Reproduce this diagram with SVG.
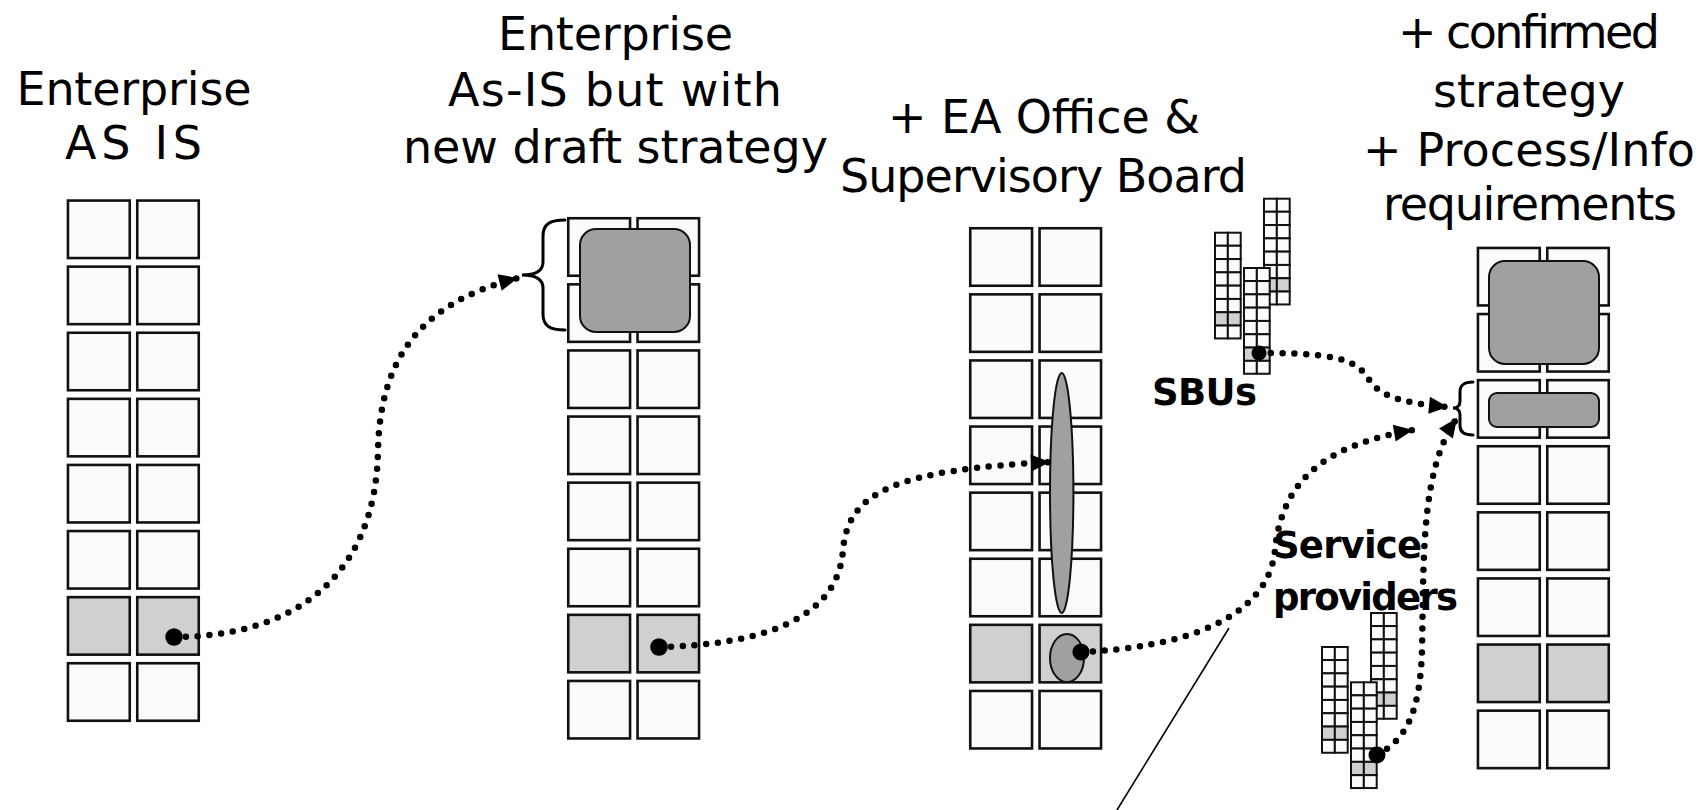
<svg xmlns="http://www.w3.org/2000/svg" xmlns:xlink="http://www.w3.org/1999/xlink" width="1708" height="810" viewBox="0 0 1708 810">
  <style>
    .cell { fill: #fbfbfb; stroke: #111; stroke-width: 2.6; }
    .shade { fill: #d0d0d0; }
    .mcell { fill: #fbfbfb; stroke: #111; stroke-width: 2; }
    .mshade { fill: #d0d0d0; }
    .blob { fill: #a0a0a0; stroke: #111; stroke-width: 2; }
    .brace { fill: none; stroke: #000; stroke-width: 3; stroke-linecap: round; }
    .flow { fill: none; stroke: #000; stroke-width: 6.5; stroke-linecap: round; stroke-dasharray: 0 11.8; marker-end: url(#head); }
    .dot { fill: #000; }
    .leader { fill: none; stroke: #000; stroke-width: 1.6; }
    .title { font-family: "DejaVu Sans", "Liberation Sans", sans-serif; font-size: 46px; text-anchor: middle; fill: #000; }
    .tag { font-family: "DejaVu Sans", "Liberation Sans", sans-serif; font-size: 37px; font-weight: bold; fill: #000; }
  </style>
  <defs>
    <marker id="head" markerUnits="userSpaceOnUse" markerWidth="24" markerHeight="24" viewBox="-21 -12 24 24" refX="0" refY="0" orient="auto">
      <path d="M0,0 L-19,-8.5 L-19,8.5 Z" fill="#000"/>
    </marker>
    <!-- enterprise column: 2 x 8 cells, seventh row shaded -->
    <g id="column">
      <rect class="cell" x="1.25" y="1.25" width="61.8" height="57.5"/>
      <rect class="cell" x="70.55" y="1.25" width="61.5" height="57.5"/>
      <rect class="cell" x="1.25" y="67.35" width="61.8" height="57.5"/>
      <rect class="cell" x="70.55" y="67.35" width="61.5" height="57.5"/>
      <rect class="cell" x="1.25" y="133.45" width="61.8" height="57.5"/>
      <rect class="cell" x="70.55" y="133.45" width="61.5" height="57.5"/>
      <rect class="cell" x="1.25" y="199.55" width="61.8" height="57.5"/>
      <rect class="cell" x="70.55" y="199.55" width="61.5" height="57.5"/>
      <rect class="cell" x="1.25" y="265.65" width="61.8" height="57.5"/>
      <rect class="cell" x="70.55" y="265.65" width="61.5" height="57.5"/>
      <rect class="cell" x="1.25" y="331.75" width="61.8" height="57.5"/>
      <rect class="cell" x="70.55" y="331.75" width="61.5" height="57.5"/>
      <rect class="cell shade" x="1.25" y="397.85" width="61.8" height="57.5"/>
      <rect class="cell shade" x="70.55" y="397.85" width="61.5" height="57.5"/>
      <rect class="cell" x="1.25" y="463.95" width="61.8" height="57.5"/>
      <rect class="cell" x="70.55" y="463.95" width="61.5" height="57.5"/>
    </g>
    <!-- small building: 2 x 8 mini cells -->
    <g id="mini">
      <rect class="mcell" x="1" y="1" width="12.85" height="13.05"/>
      <rect class="mcell" x="13.85" y="1" width="12.85" height="13.05"/>
      <rect class="mcell" x="1" y="14.05" width="12.85" height="13.3"/>
      <rect class="mcell" x="13.85" y="14.05" width="12.85" height="13.3"/>
      <rect class="mcell" x="1" y="27.35" width="12.85" height="13.3"/>
      <rect class="mcell" x="13.85" y="27.35" width="12.85" height="13.3"/>
      <rect class="mcell" x="1" y="40.65" width="12.85" height="13.3"/>
      <rect class="mcell" x="13.85" y="40.65" width="12.85" height="13.3"/>
      <rect class="mcell" x="1" y="53.95" width="12.85" height="13.3"/>
      <rect class="mcell" x="13.85" y="53.95" width="12.85" height="13.3"/>
      <rect class="mcell" x="1" y="67.25" width="12.85" height="13.3"/>
      <rect class="mcell" x="13.85" y="67.25" width="12.85" height="13.3"/>
      <rect class="mcell mshade" x="1" y="80.55" width="12.85" height="13.3"/>
      <rect class="mcell mshade" x="13.85" y="80.55" width="12.85" height="13.3"/>
      <rect class="mcell" x="1" y="93.85" width="12.85" height="12.9"/>
      <rect class="mcell" x="13.85" y="93.85" width="12.85" height="12.9"/>
    </g>
    <!-- cluster of three small buildings -->
    <g id="cluster">
      <use href="#mini" xlink:href="#mini" x="0" y="0"/>
      <use href="#mini" xlink:href="#mini" x="49" y="-34"/>
      <use href="#mini" xlink:href="#mini" x="29" y="35.3"/>
    </g>
  </defs>

  <rect width="1708" height="810" fill="#fff"/>

  <!-- stage 1 -->
  <g id="stage-asis">
    <use href="#column" xlink:href="#column" transform="translate(66.7,199.3)"/>
    <text class="title" x="134" y="105" textLength="235">Enterprise</text>
    <text class="title" x="133.5" y="159" textLength="137">AS IS</text>
  </g>

  <!-- stage 2 -->
  <g id="stage-draft">
    <use href="#column" xlink:href="#column" transform="translate(567,217)"/>
    <rect class="blob" x="580" y="229" width="110" height="103" rx="16"/>
    <path class="brace" d="M565,220 C550,220 543,224 543,236 L543,262 C543,271 535,275 522,275 C535,275 543,279 543,288 L543,314 C543,326 550,330 565,330"/>
    <text class="title" x="615.5" y="50" textLength="235">Enterprise</text>
    <text class="title" x="615" y="106" textLength="334">As-IS but with</text>
    <text class="title" x="615.5" y="163" textLength="425">new draft strategy</text>
  </g>

  <!-- stage 3 -->
  <g id="stage-office">
    <use href="#column" xlink:href="#column" transform="translate(969,227)"/>
    <ellipse class="blob" cx="1061.7" cy="493" rx="11.7" ry="120"/>
    <ellipse class="blob" cx="1067" cy="658" rx="17" ry="24"/>
    <text class="title" x="1044" y="133" textLength="312">+ EA Office &amp;</text>
    <text class="title" x="1043.5" y="191.5" textLength="407">Supervisory Board</text>
  </g>

  <!-- stage 4 -->
  <g id="stage-confirmed">
    <use href="#column" xlink:href="#column" transform="translate(1476.7,246.7)"/>
    <rect class="blob" x="1489" y="261" width="110" height="103" rx="16"/>
    <rect class="blob" x="1489" y="393" width="110" height="34" rx="8"/>
    <path class="brace" d="M1473,382 C1464,382 1460,385 1460,392 L1460,401 C1460,406 1457,408 1453,408 C1457,408 1460,410 1460,415 L1460,426 C1460,432 1464,435 1473,435"/>
    <text class="title" x="1529" y="48" textLength="262">+ confirmed</text>
    <text class="title" x="1529" y="106.5" textLength="192">strategy</text>
    <text class="title" x="1529" y="166" textLength="332">+ Process/Info</text>
    <text class="title" x="1530" y="220" textLength="294">requirements</text>
  </g>

  <!-- business units -->
  <g id="sbus">
    <use href="#cluster" xlink:href="#cluster" transform="translate(1214,231.7)"/>
    <text class="tag" x="1152" y="405" textLength="105">SBUs</text>
  </g>

  <!-- service providers -->
  <g id="providers">
    <use href="#cluster" xlink:href="#cluster" transform="translate(1321,646)"/>
    <text class="tag" x="1273" y="558" textLength="149">Service</text>
    <text class="tag" x="1273" y="610" textLength="185">providers</text>
  </g>

  <!-- dotted flows between stages -->
  <g id="connectors">
    <path class="flow" d="M174,637 C290,637 376,580 378,450 C380,370 410,305 518,278"/>
    <path class="flow" d="M659,647 C760,645 838,620 843,550 C848,490 900,470 1050,462"/>
    <path class="flow" d="M1081,652 C1180,648 1268,620 1275,550 C1282,480 1325,445 1413,430"/>
    <path class="flow" d="M1259,353 C1330,353 1355,358 1368,378 C1380,398 1405,403 1448,407"/>
    <path class="flow" d="M1377,755 C1405,740 1420,715 1422,650 C1424,560 1420,470 1457,418"/>
    <circle class="dot" cx="174" cy="637" r="8.7"/>
    <circle class="dot" cx="659" cy="647" r="8.8"/>
    <circle class="dot" cx="1081" cy="652" r="8.6"/>
    <circle class="dot" cx="1259" cy="353" r="7.5"/>
    <circle class="dot" cx="1377" cy="755" r="8.5"/>
    <path class="leader" d="M1229,628 L1117,810"/>
  </g>
</svg>
